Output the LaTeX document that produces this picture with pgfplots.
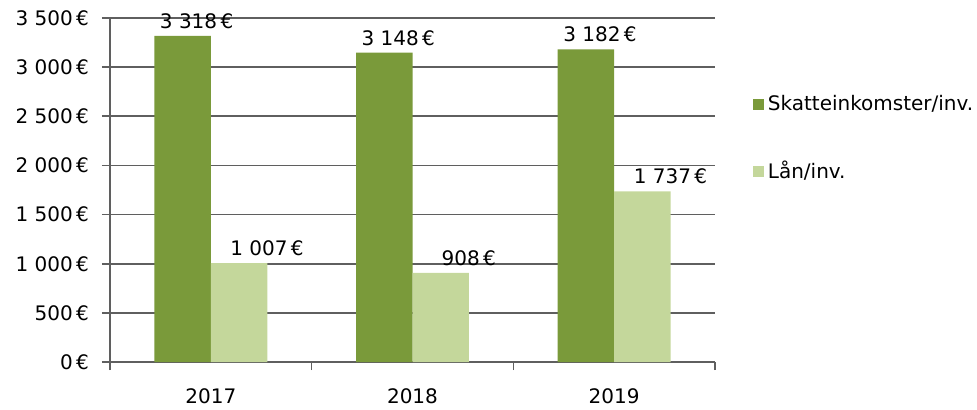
\documentclass[border=0pt]{standalone}
\usepackage{pgfplots}
\pgfplotsset{compat=1.18}
\usepackage{fontspec}
\setmainfont{DejaVu Sans}
\definecolor{dgreen}{RGB}{122,154,58}
\definecolor{lgreen}{RGB}{196,215,155}
\definecolor{gridc}{RGB}{95,95,95}
\begin{document}
\begin{tikzpicture}
\path[use as bounding box] (-55pt,-23.5pt) rectangle (433.5pt,181pt);
\begin{axis}[
  at={(0,0)}, anchor=south west, scale only axis,
  width=302.5pt, height=172pt,
  xmin=-0.5, xmax=2.5, ymin=0, ymax=3500,
  ybar=0pt, bar width=0.28,
  axis lines*=left,
  axis line style={gridc, line width=0.8pt},
  xtick={0,1,2}, xticklabels={2017,2018,2019},
  x tick style={draw=none},
  xticklabel style={yshift=-6pt},
  extra x ticks={-0.5,0.5,1.5,2.5}, extra x tick labels={},
  extra x tick style={grid=none, tick align=outside, major tick length=4pt, x tick style={draw=gridc, line width=0.8pt}},
  ytick={0,500,1000,1500,2000,2500,3000,3500},
  yticklabels={0\,€,500\,€,1 000\,€,1 500\,€,2 000\,€,2 500\,€,3 000\,€,3 500\,€},
  y tick style={gridc, line width=0.8pt},
  tick align=outside, major tick length=4pt,
  yticklabel style={xshift=-3pt},
  ymajorgrids, grid style={gridc, line width=0.8pt},
  tick label style={font=\fontsize{10pt}{12pt}\selectfont, black},
  point meta=explicit symbolic,
  nodes near coords,
  every node near coord/.append style={font=\fontsize{10pt}{12pt}\selectfont, black, anchor=south, yshift=0pt},
  legend style={draw=none, at={(1.053,0.80)}, anchor=north west, row sep=20pt, font=\fontsize{10pt}{12pt}\selectfont, cells={anchor=west}},
  legend image code/.code={\fill[#1] (0pt,-2.6pt) rectangle (5.2pt,2.6pt);},
  clip=false,
]
\addplot[fill=dgreen, draw=none, every node near coord/.append style={xshift=7pt}] coordinates {(0,3318) [3 318\,€] (1,3148) [3 148\,€] (2,3182) [3 182\,€]};
\addplot[fill=lgreen, draw=none, every node near coord/.append style={xshift=14pt}] coordinates {(0,1007) [1 007\,€] (1,908) [908\,€] (2,1737) [1 737\,€]};
\legend{Skatteinkomster/inv., Lån/inv.}
\end{axis}
\end{tikzpicture}
\end{document}
